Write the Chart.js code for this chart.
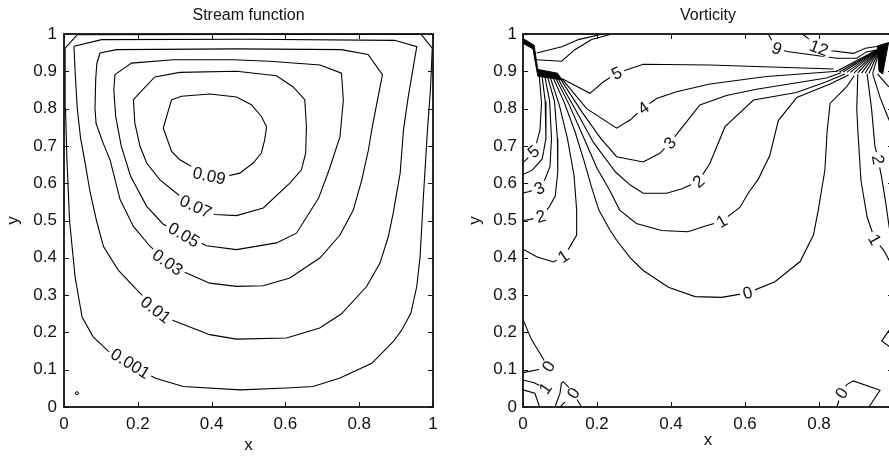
<!DOCTYPE html>
<html>
<head>
<meta charset="utf-8">
<script src="https://cdn.jsdelivr.net/npm/chart.js@4.4.1/dist/chart.umd.min.js"></script>
<style>
  html, body { margin: 0; padding: 0; background: #fff; overflow: hidden; width: 889px; height: 457px; }
  #left { position: absolute; left: 0; top: 0; width: 445px; height: 457px; }
  #right { position: absolute; left: 445px; top: 0; width: 460px; height: 457px; }
</style>
</head>
<body>
<div id="left"><canvas id="psi" width="445" height="457"></canvas></div>
<div id="right"><canvas id="omega" width="460" height="457"></canvas></div>
<script>
// tick values shared by both panels
const xTickValues = [0, 0.2, 0.4, 0.6, 0.8, 1];
const yTickValues = [0, 0.1, 0.2, 0.3, 0.4, 0.5, 0.6, 0.7, 0.8, 0.9, 1];

// stream function contours [x, y]
const psi0001 = [[0.003,0.962],[0.036,0.998],[0.5,0.999],[0.968,0.999],[0.998,0.962],[0.993,0.85],[0.985,0.743],[0.974,0.564],[0.965,0.403],[0.956,0.323],[0.94,0.251],[0.915,0.206],[0.892,0.175],[0.87,0.153],[0.834,0.117],[0.748,0.078],[0.675,0.055],[0.603,0.051],[0.477,0.046],[0.323,0.055],[0.246,0.078],[0.18,0.115],[0.125,0.145],[0.079,0.188],[0.049,0.241],[0.03,0.349],[0.015,0.5],[0.008,0.662],[0.004,0.8],[0.003,0.962]];
const psi001 = [[0.027,0.967],[0.102,0.985],[0.5,0.986],[0.896,0.983],[0.956,0.966],[0.933,0.832],[0.92,0.743],[0.911,0.627],[0.892,0.519],[0.879,0.457],[0.856,0.385],[0.82,0.323],[0.752,0.25],[0.693,0.212],[0.603,0.185],[0.4675,0.182],[0.395,0.194],[0.296,0.232],[0.249,0.261],[0.206,0.305],[0.147,0.367],[0.107,0.43],[0.088,0.5],[0.07,0.58],[0.058,0.65],[0.045,0.72],[0.036,0.8],[0.03,0.9],[0.027,0.967]];
const psi003 = [[0.0975,0.949],[0.1426,0.958],[0.4675,0.96],[0.752,0.958],[0.824,0.945],[0.863,0.891],[0.845,0.8],[0.834,0.743],[0.825,0.689],[0.807,0.609],[0.784,0.528],[0.748,0.461],[0.694,0.4],[0.612,0.346],[0.54,0.325],[0.4675,0.3235],[0.395,0.332],[0.33,0.36],[0.281,0.388],[0.233,0.431],[0.188,0.484],[0.152,0.556],[0.125,0.662],[0.105,0.71],[0.087,0.76],[0.084,0.8],[0.086,0.88],[0.089,0.921],[0.0975,0.949]];
const psi005 = [[0.138,0.891],[0.183,0.922],[0.296,0.931],[0.458,0.931],[0.558,0.927],[0.694,0.917],[0.752,0.895],[0.757,0.823],[0.748,0.725],[0.72,0.64],[0.69,0.56],[0.63,0.466],[0.576,0.44],[0.4675,0.422],[0.386,0.4325],[0.325,0.462],[0.269,0.49],[0.224,0.538],[0.18,0.62],[0.155,0.7],[0.14,0.78],[0.135,0.85],[0.138,0.891]];
const psi007 = [[0.188,0.824],[0.246,0.885],[0.314,0.897],[0.4675,0.9],[0.576,0.888],[0.621,0.858],[0.6525,0.824],[0.657,0.752],[0.655,0.681],[0.6435,0.636],[0.612,0.6],[0.54,0.5335],[0.4675,0.513],[0.409,0.516],[0.357,0.538],[0.31,0.569],[0.26,0.609],[0.224,0.654],[0.206,0.699],[0.192,0.761],[0.188,0.824]];
const psi009 = [[0.2915,0.824],[0.3186,0.833],[0.395,0.839],[0.4675,0.831],[0.508,0.8105],[0.535,0.779],[0.549,0.751],[0.544,0.717],[0.535,0.681],[0.5126,0.654],[0.4765,0.627],[0.4365,0.618],[0.3935,0.62],[0.3457,0.645],[0.314,0.663],[0.2915,0.685],[0.269,0.748],[0.2915,0.824]];
const psiEddy = [[0.035,0.037]];
const psiLabels = [['0.09',0.3935,0.62,12],['0.07',0.357,0.538,25],['0.05',0.325,0.462,30],['0.03',0.281,0.388,35],['0.01',0.249,0.261,38],['0.001',0.18,0.117,32]];

// vorticity contours [x, y]
const vortW5 = [[0.043,0.901],[0.05,0.815],[0.046,0.743],[0.035,0.702],[0.028,0.685],[0.013,0.667],[0,0.655]];
const vortW4 = [[0.05,0.899],[0.06,0.82],[0.062,0.72],[0.052,0.665],[0.025,0.635],[0,0.623]];
const vortW3 = [[0.057,0.897],[0.072,0.82],[0.077,0.72],[0.073,0.645],[0.06,0.612],[0.044,0.587],[0.015,0.577],[0,0.574]];
const vortW2 = [[0.064,0.894],[0.085,0.82],[0.093,0.72],[0.094,0.63],[0.087,0.565],[0.07,0.535],[0.048,0.511],[0.02,0.503],[0,0.5]];
const vortW1 = [[0.071,0.892],[0.098,0.81],[0.12,0.72],[0.138,0.62],[0.145,0.528],[0.145,0.461],[0.127,0.43],[0.109,0.404],[0.082,0.389],[0.037,0.403],[0,0.423]];
const vort0 = [[0.078,0.89],[0.11,0.82],[0.14,0.74],[0.165,0.66],[0.185,0.59],[0.205,0.528],[0.235,0.4745],[0.253,0.447],[0.29,0.4],[0.325,0.366],[0.393,0.321],[0.465,0.296],[0.537,0.294],[0.607,0.306],[0.681,0.336],[0.749,0.39],[0.785,0.461],[0.798,0.528],[0.816,0.636],[0.822,0.74],[0.83,0.814],[0.875,0.859],[0.895,0.888]];
const vort1 = [[0.085,0.888],[0.125,0.81],[0.165,0.72],[0.2,0.64],[0.235,0.58],[0.2613,0.528],[0.3063,0.492],[0.374,0.473],[0.446,0.47],[0.4865,0.483],[0.537,0.498],[0.586,0.535],[0.61,0.575],[0.636,0.611],[0.667,0.674],[0.69,0.768],[0.74,0.83],[0.83,0.866],[0.88,0.89]];
const vort2 = [[0.092,0.885],[0.14,0.8],[0.19,0.71],[0.25,0.63],[0.29,0.595],[0.325,0.573],[0.388,0.573],[0.43,0.585],[0.474,0.605],[0.505,0.653],[0.546,0.7515],[0.623,0.823],[0.739,0.843],[0.82,0.872],[0.87,0.893]];
const vort3 = [[0.099,0.883],[0.16,0.79],[0.21,0.72],[0.253,0.671],[0.325,0.657],[0.37,0.68],[0.397,0.708],[0.46,0.787],[0.478,0.81],[0.55,0.835],[0.631,0.852],[0.82,0.882],[0.86,0.896]];
const vort4 = [[0.104,0.881],[0.172,0.8],[0.253,0.7475],[0.29,0.77],[0.325,0.8016],[0.361,0.827],[0.415,0.845],[0.505,0.866],[0.658,0.886],[0.85,0.9]];
const vort5 = [[0.106,0.88],[0.181,0.841],[0.215,0.87],[0.253,0.895],[0.325,0.919],[0.505,0.917],[0.65,0.912],[0.839,0.906]];
const vortTopA = [[0.037,0.949],[0.105,0.966],[0.15,0.985],[0.215,1]];
const vortTopB = [[0.037,0.931],[0.1045,0.927],[0.14,0.958],[0.1856,0.985],[0.24,1]];
const vort9 = [[0.663,1],[0.672,0.983],[0.686,0.962],[0.7135,0.953],[0.848,0.935],[0.902,0.935],[0.928,0.952],[0.962,0.958]];
const vort12 = [[0.755,1],[0.775,0.985],[0.8,0.963],[0.834,0.955],[0.893,0.948],[0.925,0.962],[0.965,0.968]];
const vortR1 = [[0.905,0.893],[0.902,0.8],[0.905,0.74],[0.9135,0.6065],[0.93,0.51],[0.942,0.4745],[0.951,0.449],[0.975,0.42],[0.989,0.394],[1,0.377]];
const vortR2 = [[0.93,0.893],[0.942,0.8],[0.951,0.7],[0.96,0.663],[0.969,0.617],[0.98,0.55],[0.99,0.48],[1,0.44]];
const vortR3 = [[0.945,0.893],[0.965,0.83],[0.985,0.78],[1,0.745]];
const vortR4 = [[0.958,0.893],[0.985,0.862],[1,0.85]];
const vortNotch = [[1,0.22],[0.9694,0.177],[1,0.155]];
const vortB0a = [[0,0.234],[0.0234,0.18],[0.0595,0.1215],[0.0685,0.108],[0.0459,0.1011],[0,0.092]];
const vortB1a = [[0,0.0725],[0.03,0.065],[0.06,0.05]];
const vortB1b = [[0,0.046],[0.032,0.037],[0.045,0]];
const vortB0b = [[0.0865,0],[0.1,0.037],[0.104,0.064],[0.109,0.068],[0.127,0.049],[0.136,0.036],[0.1586,0]];
const vortB0c = [[0.1,0],[0.1135,0.014]];
const vortB0d = [[0.848,0],[0.855,0.02],[0.861,0.0375],[0.875,0.06],[0.893,0.07],[0.965,0.045],[0.935,0]];
// dense corner regions
const vortWedgeL = [[0,0.988],[0.03,0.97],[0.04,0.905],[0.093,0.895],[0.106,0.877],[0.04,0.887],[0.027,0.96],[0,0.975],[0,0.988]];
const vortWedgeR = [[0.958,0.968],[0.988,0.977],[0.972,0.893],[0.962,0.9],[0.958,0.968]];
const vortFanR = [
  [[0.845,0.899],[0.965,0.962]], [[0.855,0.898],[0.965,0.962]], [[0.865,0.898],[0.965,0.962]],
  [[0.875,0.897],[0.965,0.962]], [[0.885,0.897],[0.965,0.962]], [[0.895,0.896],[0.965,0.962]],
  [[0.905,0.896],[0.965,0.962]], [[0.915,0.895],[0.965,0.962]], [[0.925,0.895],[0.965,0.962]],
  [[0.935,0.894],[0.965,0.962]], [[0.945,0.894],[0.965,0.962]]
];
const vortLabels = [
  ['5',0.253,0.895,-25], ['4',0.325,0.8016,-35], ['3',0.397,0.708,-45], ['2',0.474,0.605,-40],
  ['1',0.537,0.498,-30], ['0',0.607,0.306,-15], ['9',0.686,0.962,20], ['12',0.8,0.9625,20],
  ['5',0.028,0.685,-40], ['3',0.044,0.587,-25], ['2',0.048,0.511,-15], ['1',0.109,0.404,-35],
  ['2',0.96,0.663,80], ['1',0.951,0.449,60], ['0',0.0685,0.109,-60], ['1',0.06,0.05,-55],
  ['0',0.136,0.037,-55], ['0',0.861,0.0375,-55]
];

const FONT = '"Liberation Sans", Arial, Helvetica, sans-serif';
const INK = '#111';

function toPoints(arr) {
  return arr.map(([x, y]) => ({ x, y }));
}

function lineSet(pts) {
  return { data: toPoints(pts), borderColor: '#000', borderWidth: 1.1, pointRadius: 0, fill: false, tension: 0 };
}

function shapeSet(pts) {
  return { data: toPoints(pts), borderColor: '#000', borderWidth: 1, pointRadius: 0, fill: 'shape', backgroundColor: '#000', tension: 0 };
}

// clabel-style text sitting in a gap of the line
const contourLabels = {
  id: 'contourLabels',
  afterDatasetsDraw(chart, args, opts) {
    const { ctx, scales: { x, y } } = chart;
    ctx.save();
    ctx.font = `17px ${FONT}`;
    ctx.textAlign = 'center';
    ctx.textBaseline = 'middle';
    (opts.items || []).forEach(([text, vx, vy, deg]) => {
      const px = x.getPixelForValue(vx);
      const py = y.getPixelForValue(vy);
      const w = ctx.measureText(text).width;
      ctx.save();
      ctx.translate(px, py);
      ctx.rotate(deg * Math.PI / 180);
      ctx.fillStyle = '#fff';
      ctx.fillRect(-w / 2 - 3, -6.5, w + 6, 13);
      ctx.fillStyle = INK;
      ctx.fillText(text, 0, 1);
      ctx.restore();
    });
    ctx.restore();
  }
};

// closed axes box with inward ticks on all four sides
const matlabBox = {
  id: 'matlabBox',
  afterDraw(chart) {
    const { ctx, chartArea: { left, right, top, bottom }, scales: { x, y } } = chart;
    ctx.save();
    ctx.strokeStyle = INK;
    ctx.lineWidth = 1;
    ctx.beginPath();
    x.ticks.forEach(t => {
      const p = Math.round(x.getPixelForValue(t.value)) + 0.5;
      ctx.moveTo(p, bottom); ctx.lineTo(p, bottom - 5);
      ctx.moveTo(p, top); ctx.lineTo(p, top + 5);
    });
    y.ticks.forEach(t => {
      const p = Math.round(y.getPixelForValue(t.value)) + 0.5;
      ctx.moveTo(left, p); ctx.lineTo(left + 5, p);
      ctx.moveTo(right, p); ctx.lineTo(right - 5, p);
    });
    ctx.stroke();
    ctx.lineWidth = 1.8;
    ctx.strokeRect(left, top, right - left, bottom - top);
    ctx.restore();
  }
};

function makeChart(id, title, datasets, labels, pad) {
  const font = { family: FONT, size: 17 };
  return new Chart(document.getElementById(id), {
    type: 'line',
    data: { datasets },
    options: {
      responsive: false,
      animation: false,
      events: [],
      layout: { padding: { left: pad.left, right: 12, top: 0, bottom: 0 } },
      plugins: {
        legend: { display: false },
        tooltip: { enabled: false },
        title: { display: true, text: title, fullSize: false, color: INK, font: { family: FONT, size: 16, weight: 'normal' }, padding: { top: 6, bottom: 8.8 } },
        contourLabels: { items: labels }
      },
      scales: {
        x: {
          type: 'linear', min: 0, max: 1,
          grid: { display: false, drawTicks: false },
          border: { display: false },
          afterBuildTicks: s => { s.ticks = xTickValues.map(value => ({ value })); },
          afterFit: s => { s.height = 50; },
          ticks: { color: INK, padding: 7, font, maxRotation: 0, autoSkip: false, callback: v => String(v) },
          title: { display: true, text: 'x', color: INK, font, padding: { top: 0, bottom: pad.xTitle } }
        },
        y: {
          type: 'linear', min: 0, max: 1,
          grid: { display: false, drawTicks: false },
          border: { display: false },
          afterBuildTicks: s => { s.ticks = yTickValues.map(value => ({ value })); },
          afterFit: s => { s.width = 64; },
          ticks: { color: INK, padding: pad.yTicks, font, autoSkip: false, callback: v => String(v) },
          title: { display: true, text: 'y', color: INK, font, padding: { top: pad.yTitle, bottom: 0 } }
        }
      }
    },
    plugins: [contourLabels, matlabBox]
  });
}

const psiSets = [psi0001, psi001, psi003, psi005, psi007, psi009].map(lineSet);
psiSets.push({ data: toPoints(psiEddy), showLine: false, pointRadius: 1.5, pointBorderWidth: 1, pointBorderColor: '#000', pointBackgroundColor: '#fff' });

const vortSets = [
  vortW5, vortW4, vortW3, vortW2, vortW1, vort0, vort1, vort2, vort3, vort4, vort5,
  vortTopA, vortTopB, vort9, vort12, vortR1, vortR2, vortR3, vortR4, vortNotch,
  vortB0a, vortB1a, vortB1b, vortB0b, vortB0c, vortB0d, ...vortFanR
].map(lineSet);
vortSets.push(shapeSet(vortWedgeL), shapeSet(vortWedgeR));

makeChart('psi', 'Stream function', psiSets, psiLabels, { left: 0, yTicks: 7, yTitle: 3.5, xTitle: 1 });
makeChart('omega', 'Vorticity', vortSets, vortLabels, { left: 14, yTicks: 6, yTitle: 6.5, xTitle: 6 });
</script>
</body>
</html>
